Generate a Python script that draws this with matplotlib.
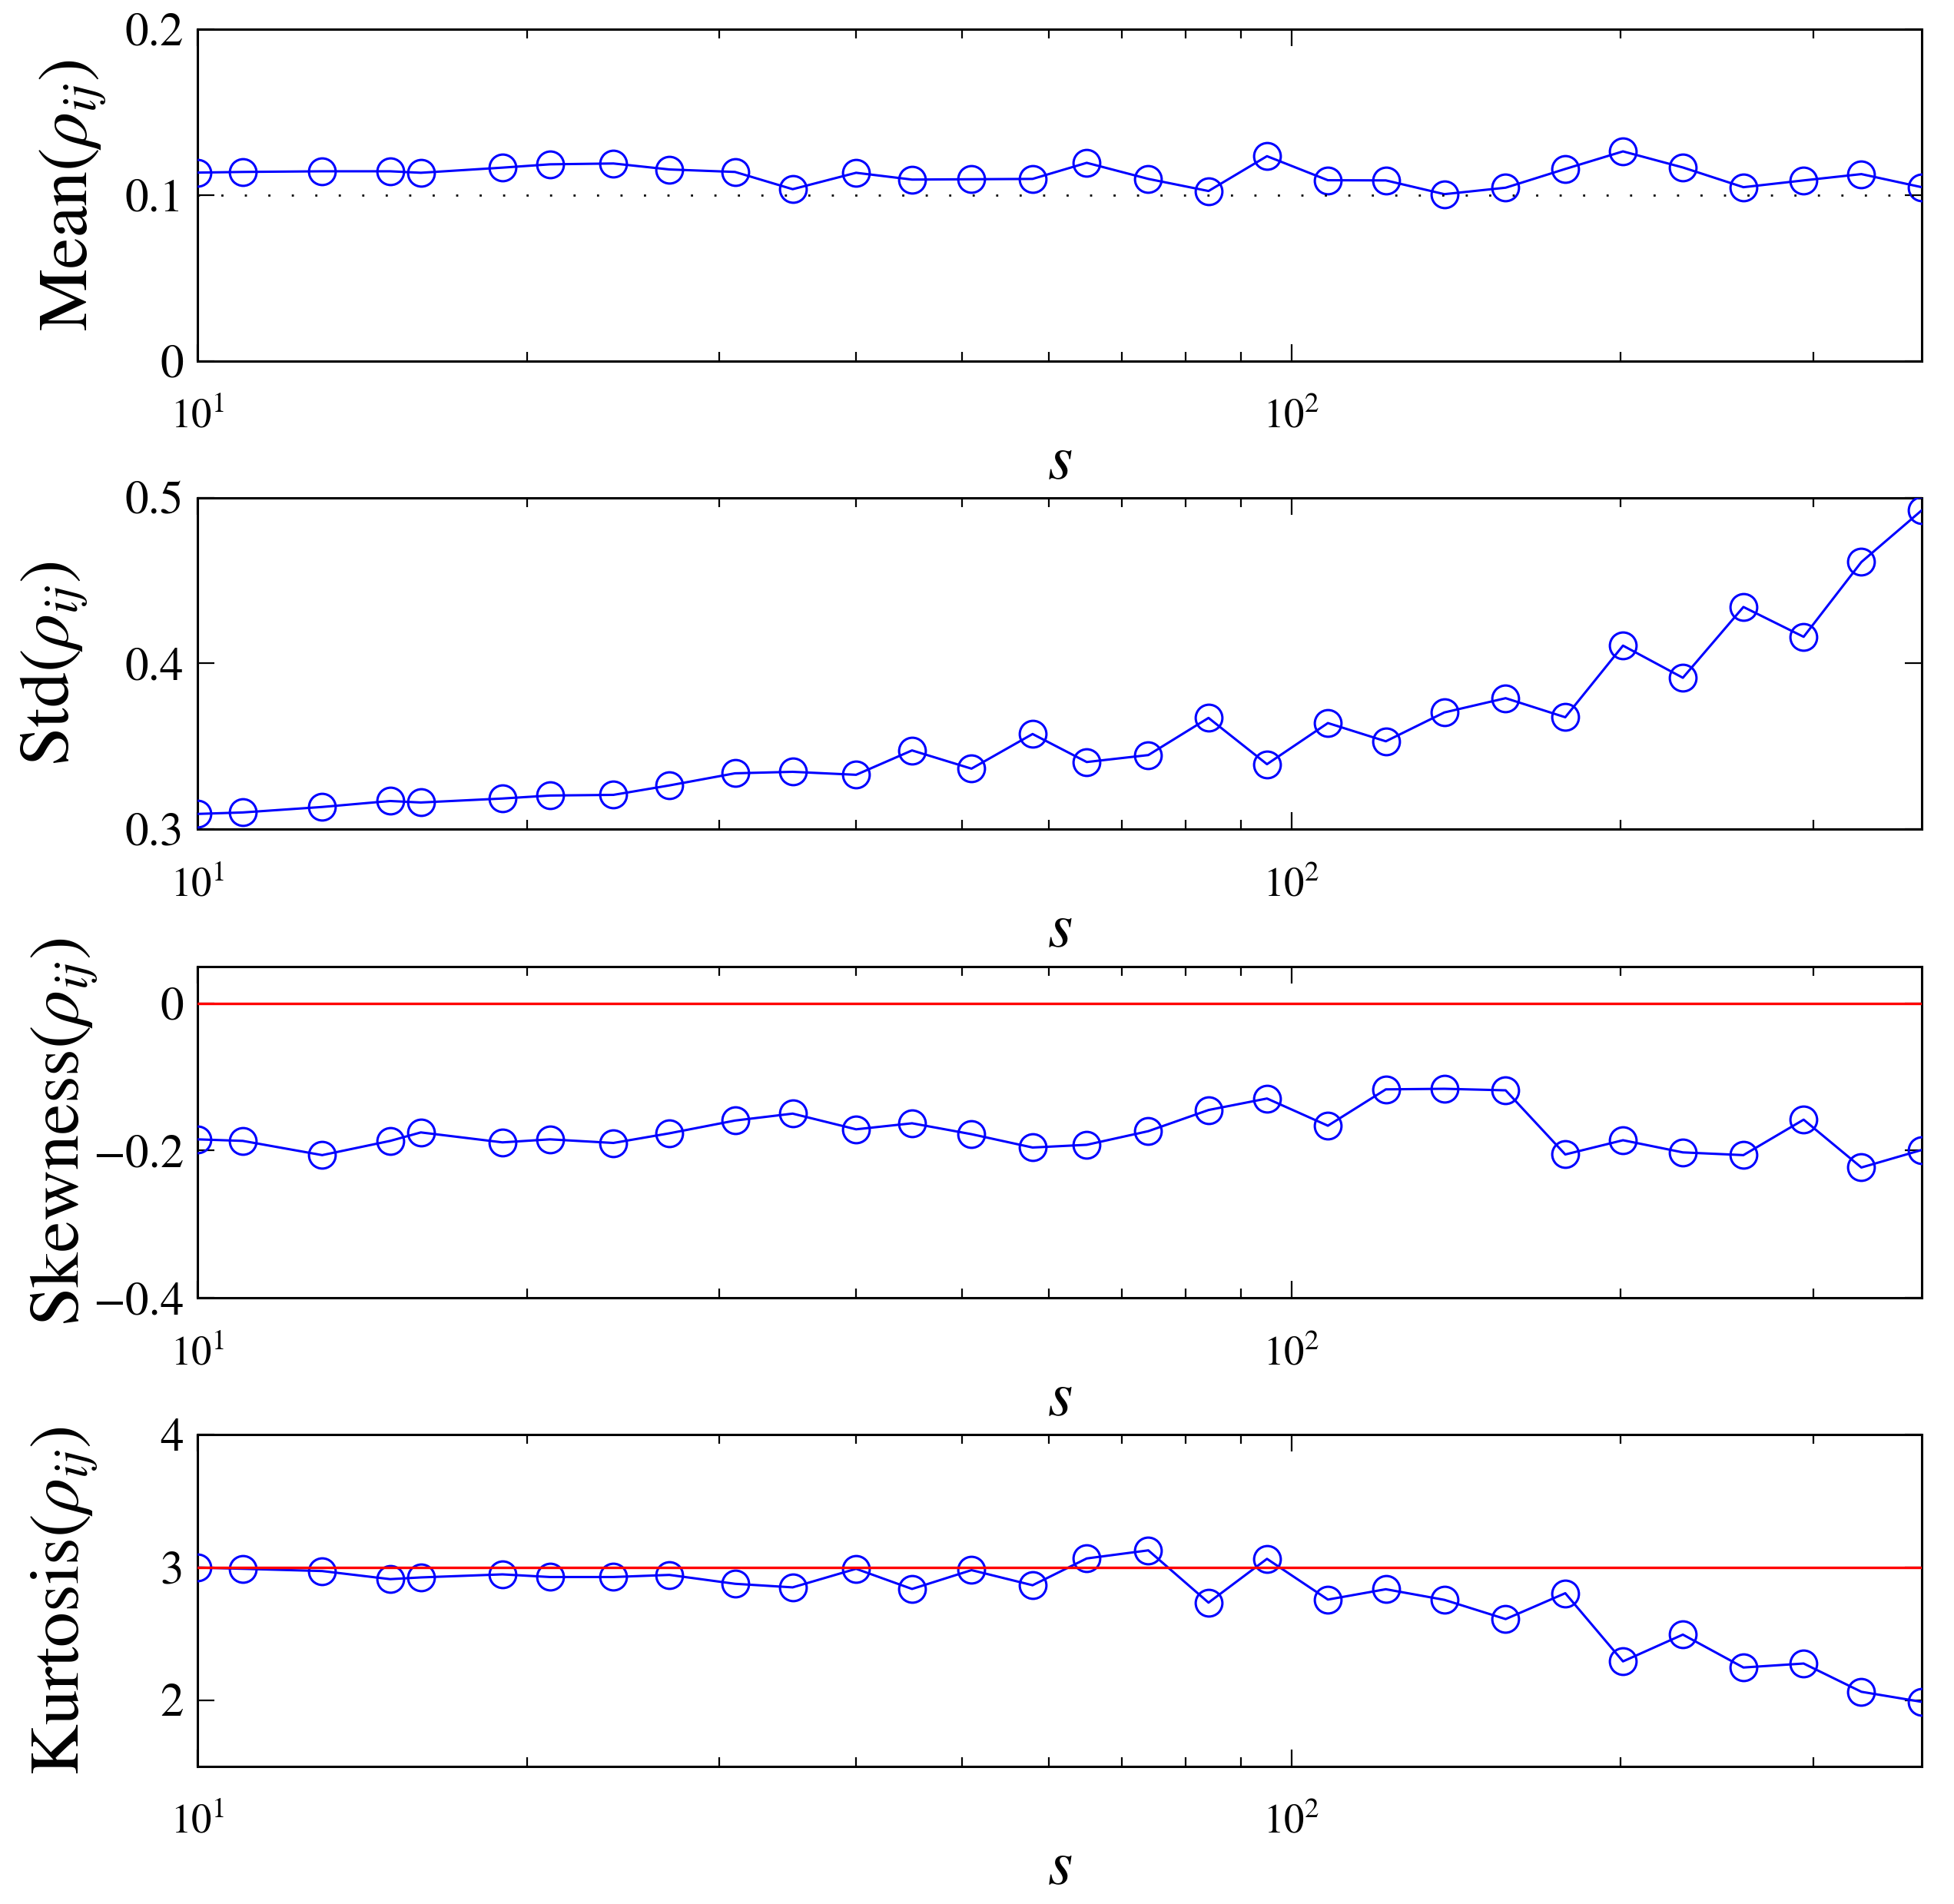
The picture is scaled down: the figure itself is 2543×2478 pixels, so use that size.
import matplotlib
matplotlib.use("Agg")
import matplotlib.pyplot as plt
from matplotlib.ticker import NullFormatter

plt.rcParams["font.family"] = ["STIXGeneral", "DejaVu Serif"]
plt.rcParams["mathtext.fontset"] = "stix"

# scale s
s = [10, 11, 13, 15, 16, 19, 21, 24, 27, 31, 35, 40, 45, 51, 58,
     65, 74, 84, 95, 108, 122, 138, 157, 178, 201, 228, 259, 294, 332, 377]

mean_rho = [0.1136, 0.1140, 0.1144, 0.1144, 0.1135, 0.1166, 0.1186, 0.1191, 0.1155, 0.1140,
            0.1036, 0.1135, 0.1094, 0.1096, 0.1098, 0.1195, 0.1098, 0.1025, 0.1235, 0.1090,
            0.1089, 0.1006, 0.1045, 0.1158, 0.1264, 0.1167, 0.1048, 0.1089, 0.1127, 0.1048]

std_rho = [0.3092, 0.3101, 0.3134, 0.3170, 0.3161, 0.3185, 0.3203, 0.3207, 0.3264, 0.3337,
           0.3346, 0.3328, 0.3475, 0.3365, 0.3574, 0.3405, 0.3447, 0.3671, 0.3392, 0.3640,
           0.3530, 0.3704, 0.3790, 0.3675, 0.4107, 0.3913, 0.4340, 0.4160, 0.4611, 0.4923]

skew_rho = [-0.1848, -0.1869, -0.2062, -0.1869, -0.1754, -0.1889, -0.1848, -0.1897, -0.1766, -0.1593,
            -0.1499, -0.1712, -0.1630, -0.1778, -0.1959, -0.1922, -0.1737, -0.1450, -0.1294, -0.1663,
            -0.1170, -0.1162, -0.1183, -0.2053, -0.1860, -0.2025, -0.2062, -0.1581, -0.2230, -0.1992]

kurt_rho = [2.998, 2.989, 2.972, 2.911, 2.924, 2.947, 2.927, 2.927, 2.943, 2.876,
            2.849, 2.989, 2.837, 2.979, 2.865, 3.067, 3.128, 2.734, 3.064, 2.757,
            2.835, 2.755, 2.610, 2.805, 2.291, 2.493, 2.245, 2.275, 2.062, 1.986]

ylabels = [r"$\mathrm{Mean}\left(\rho_{ij}\right)$", r"$\mathrm{Std}\left(\rho_{ij}\right)$",
           r"$\mathrm{Skewness}\left(\rho_{ij}\right)$", r"$\mathrm{Kurtosis}\left(\rho_{ij}\right)$"]
ylims = [(0, 0.2), (0.3, 0.5), (-0.4, 0.05), (1.5, 4)]
yticks = [[0, 0.1, 0.2], [0.3, 0.4, 0.5], [-0.4, -0.2, 0], [2, 3, 4]]
yticklabels = [["0", "0.1", "0.2"], ["0.3", "0.4", "0.5"],
               ["\u22120.4", "\u22120.2", "0"], ["2", "3", "4"]]
ref_lines = [0.1, None, 0, 3]
bottoms = [0.8104, 0.5645, 0.3183, 0.0723]
label_x = [-0.052, -0.063, -0.057, -0.057]

fig = plt.figure(figsize=(25.43, 24.78), dpi=100)

series = [mean_rho, std_rho, skew_rho, kurt_rho]
for k in range(4):
    ax = fig.add_axes([0.1011, bottoms[k], 0.8824, 0.1742])
    ax.plot(s, series[k], "-o", color="blue", lw=2.2, ms=25, mfc="none", mew=2.2, zorder=3)
    if k == 0:
        ax.axhline(ref_lines[k], color="black", lw=2.0, ls=(0, (1, 10)), zorder=4)
    elif ref_lines[k] is not None:
        ax.axhline(ref_lines[k], color="red", lw=2.4, zorder=4)
    ax.set_xscale("log")
    ax.set_xlim(10, 377)
    ax.set_ylim(*ylims[k])
    ax.set_yticks(yticks[k])
    ax.set_yticklabels(yticklabels[k])
    ax.xaxis.set_minor_formatter(NullFormatter())
    ax.tick_params(which="both", direction="in", top=True, right=True, width=1.6)
    ax.tick_params(which="major", length=16)
    ax.tick_params(which="minor", length=8.5)
    ax.tick_params(axis="y", labelsize=44, pad=13)
    ax.tick_params(axis="x", labelsize=38, pad=36)
    for sp in ax.spines.values():
        sp.set_linewidth(2.2)
    ax.set_ylabel(ylabels[k], fontsize=66)
    ax.yaxis.set_label_coords(label_x[k], 0.5)
    ax.set_xlabel(r"$s$", fontsize=60)
    ax.xaxis.set_label_coords(0.5, -0.225)

fig.savefig("out.png", dpi=100)
